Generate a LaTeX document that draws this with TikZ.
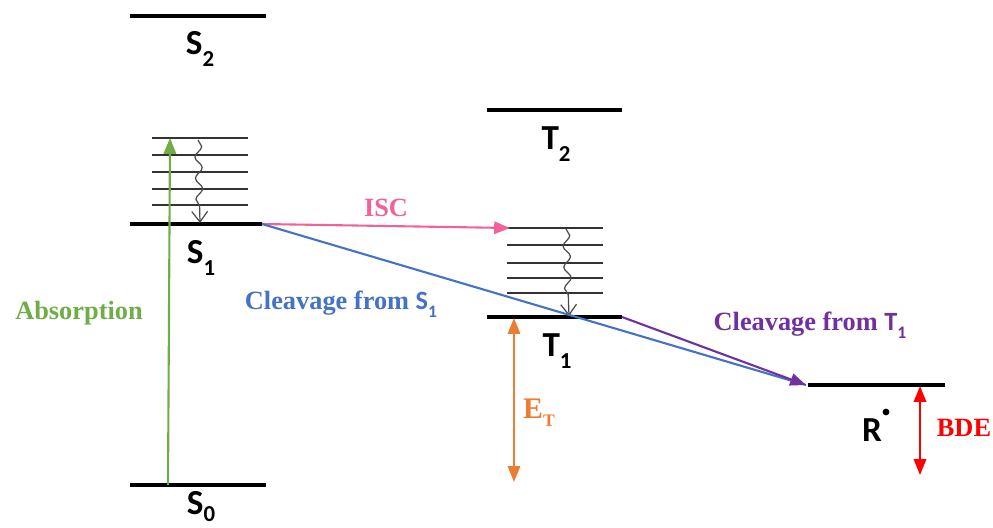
\documentclass[tikz,border=0pt]{standalone}
\usepackage{fontspec}
\setmainfont{Liberation Serif}
\newfontfamily\statefont{Carlito}
\usetikzlibrary{arrows.meta,decorations.pathmorphing}
\definecolor{cgreen}{HTML}{70AD47}
\definecolor{cblue}{HTML}{4472C4}
\definecolor{cpink}{HTML}{F2619A}
\definecolor{cpurple}{HTML}{7030A0}
\definecolor{corange}{HTML}{ED7D31}
\definecolor{cred}{HTML}{FF0000}
\tikzset{
  level/.style={line width=1.8pt, black},
  vib/.style={line width=0.7pt, black!80},
  statelab/.style={font=\statefont\bfseries\fontsize{20}{21}\selectfont, inner sep=0pt},
  colorlab/.style={font=\bfseries\fontsize{15}{17}\selectfont, inner sep=0pt},
  relax/.style={gray!60!black, line width=0.7pt, decorate, decoration={snake, amplitude=2pt, segment length=12pt, post length=7pt}, -{Straight Barb[length=6pt,width=9pt]}},
  proc/.style={line width=1.2pt, -{Triangle[length=9pt,width=7pt]}},
  dbl/.style={line width=1.2pt, {Triangle[length=9pt,width=7pt]}-{Triangle[length=9pt,width=7pt]}}
}
\newcommand{\sub}[1]{\raisebox{-0.35em}{\fontsize{13}{13}\selectfont #1}}
\newcommand{\subz}[1]{\raisebox{-0.2em}{\fontsize{13}{13}\selectfont #1}}
\newcommand{\subc}[1]{\raisebox{-0.3em}{\fontsize{10}{10}\selectfont #1}}
\begin{document}
\begin{tikzpicture}[x=0.02cm, y=-0.02cm]
\useasboundingbox (0,0) rectangle (993,527);
% S levels
\coordinate (s2a) at (130,16); \coordinate (s2b) at (266,16);
\coordinate (s1a) at (130,224); \coordinate (s1b) at (262,224);
\coordinate (s0a) at (130,485); \coordinate (s0b) at (266,485);
\draw[level] (s2a) -- (s2b);
\draw[level] (s1a) -- (s1b);
\draw[level] (s0a) -- (s0b);
\node[statelab] (S2) at (200,49) {S\sub{2}};
\node[statelab] (S1) at (201,258) {S\sub{1}};
\node[statelab] (S0) at (201,507) {S\subz{0}};
% S1 vibrational levels
\foreach \y [count=\i] in {138,155,172,189,205} {
  \coordinate (sv\i a) at (152,\y); \coordinate (sv\i b) at (248,\y);
  \draw[vib] (sv\i a) -- (sv\i b);
}
\coordinate (sw1) at (198,140); \coordinate (sw2) at (200,223);
\draw[relax] (sw1) -- (sw2);
% T levels
\coordinate (t2a) at (487,110); \coordinate (t2b) at (622,110);
\coordinate (t1a) at (487,317); \coordinate (t1b) at (622,317);
\draw[level] (t2a) -- (t2b);
\draw[level] (t1a) -- (t1b);
\node[statelab] (T2) at (556,144) {T\sub{2}};
\node[statelab] (T1) at (557,351) {T\sub{1}};
\foreach \y [count=\i] in {228,245,263,278,293} {
  \coordinate (tv\i a) at (507,\y); \coordinate (tv\i b) at (603,\y);
  \draw[vib] (tv\i a) -- (tv\i b);
}
\coordinate (tw1) at (566,229); \coordinate (tw2) at (569,316);
\draw[relax] (tw1) -- (tw2);
% R level
\coordinate (ra) at (808,385); \coordinate (rb) at (945,385);
\draw[level] (ra) -- (rb);
\node[statelab] (R) at (872,430) {R};
\fill (886,412) circle (3.4);
% processes
\coordinate (absbot) at (168,485); \coordinate (abstop) at (170,138);
\draw[proc, cgreen] (absbot) -- (abstop);
\node[colorlab, text=cgreen] (abs) at (79,313) {Absorption};
\coordinate (iscend) at (510,228);
\draw[proc, cpink] (s1b) -- (iscend);
\node[colorlab, text=cpink] (isc) at (386,208) {ISC};
\coordinate (rend) at (806,385);
\draw[line width=1.2pt, cblue] (s1b) -- (rend);
\node[colorlab, text=cblue] (cs1) at (341,304) {Cleavage from {\statefont S}\subc{\statefont 1}};
\draw[proc, cpurple] (t1b) -- (rend);
\node[colorlab, text=cpurple] (ct1) at (810,325) {Cleavage from {\statefont T}\subc{\statefont 1}};
\coordinate (ettop) at (514,318); \coordinate (etbot) at (514,482);
\draw[dbl, corange] (ettop) -- (etbot);
\node[colorlab, text=corange] (et) at (539,413) {{\fontsize{17}{17}\selectfont E}\subc{T}};
\coordinate (bdetop) at (920,386); \coordinate (bdebot) at (920,475);
\draw[dbl, cred] (bdetop) -- (bdebot);
\node[colorlab, text=cred] (bde) at (964,428) {BDE};
\end{tikzpicture}
\end{document}
